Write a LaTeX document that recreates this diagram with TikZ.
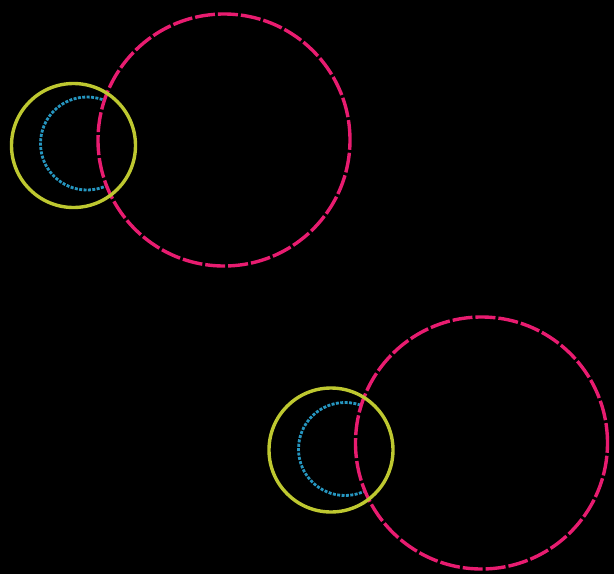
\documentclass[tikz,border=0pt]{standalone}
\usetikzlibrary{positioning}

\definecolor{ringpink}{RGB}{232,28,112}
\definecolor{ringlime}{RGB}{190,200,48}
\definecolor{ringblue}{RGB}{38,150,192}

\begin{document}
\begin{tikzpicture}[
    x=1pt, y=-1pt,
    ring/.style={circle, inner sep=0pt, outer sep=0pt},
    bigring/.style={ring, draw=ringpink, line width=3.4pt,
        dash pattern=on 20pt off 3pt, minimum size=252pt},
    outerring/.style={ring, draw=ringlime, line width=3.4pt, minimum size=124pt},
    innerring/.style={ring, draw=ringblue, line width=2.8pt,
        dash pattern=on 3pt off 1.4pt, minimum size=93pt}
]

% ============ Background ============
\fill[black] (0,0) rectangle (614,574);
\useasboundingbox (0,0) rectangle (614,574);

% ============ Upper group ============
\coordinate (midA) at (224,140);
\begin{scope}[even odd rule]
    % blue ring only shows outside the pink one
    \clip (0,0) rectangle (614,574) (midA) circle[radius=126pt];
    \node[innerring] (blueA) at (87,143.5) {};
\end{scope}
\node[bigring] (pinkA) at (midA) {};
\node[outerring] (limeA) at (73.5,145.5) {};

% ============ Lower group ============
\coordinate (midB) at (481.5,443);
\begin{scope}[even odd rule]
    \clip (0,0) rectangle (614,574) (midB) circle[radius=126pt];
    \node[innerring] (blueB) at (345,449) {};
\end{scope}
\node[bigring] (pinkB) at (midB) {};
\node[outerring] (limeB) at (331,450) {};

\end{tikzpicture}
\end{document}
